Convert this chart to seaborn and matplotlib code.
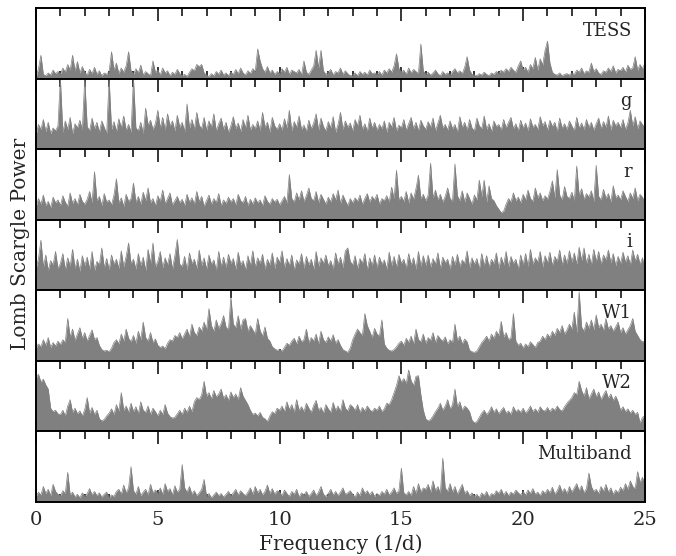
import numpy as np
import matplotlib
matplotlib.use("Agg")
import matplotlib.pyplot as plt
from matplotlib.ticker import MultipleLocator
import seaborn as sns

# power per panel, percent of panel height, sampled every 0.1 1/d from 0 to 25
tess_power = [
    2, 14, 33, 6, 4, 8, 5, 12, 7, 10,
    6, 15, 9, 20, 12, 33, 11, 24, 8, 17,
    9, 5, 13, 7, 16, 6, 11, 4, 8, 6,
    10, 38, 12, 22, 7, 15, 9, 18, 38, 11,
    6, 14, 8, 19, 5, 10, 7, 4, 25, 9,
    12, 5, 15, 8, 11, 4, 9, 6, 13, 7,
    4, 6, 3, 9, 14, 11, 20, 17, 20, 8,
    5, 3, 7, 4, 10, 6, 12, 5, 8, 4,
    9, 6, 13, 7, 15, 8, 5, 11, 7, 14,
    10, 42, 25, 14, 9, 17, 8, 12, 6, 10,
    7, 14, 9, 16, 6, 12, 10, 8, 13, 5,
    25, 9, 6, 12, 18, 40, 15, 40, 11, 6,
    9, 13, 5, 10, 8, 15, 6, 11, 7, 4,
    5, 8, 4, 10, 6, 9, 5, 12, 7, 8,
    6, 10, 5, 12, 8, 14, 9, 18, 35, 14,
    9, 12, 6, 15, 8, 13, 10, 7, 49, 11,
    6, 9, 5, 8, 12, 7, 4, 10, 6, 8,
    5, 10, 14, 8, 11, 7, 16, 31, 12, 6,
    5, 4, 7, 5, 9, 6, 4, 8, 6, 10,
    7, 12, 9, 14, 10, 16, 12, 9, 18, 25,
    12, 16, 9, 20, 14, 30, 12, 28, 19, 40,
    53, 22, 9, 6, 5, 8, 4, 6, 7, 5,
    8, 6, 12, 9, 15, 7, 11, 9, 22, 10,
    14, 8, 6, 11, 9, 15, 10, 18, 8, 13,
    11, 16, 9, 19, 13, 15, 31, 12, 20, 14,
    22,
]

g_power = [
    20, 35, 28, 42, 25, 38, 22, 30, 26, 33,
    100, 24, 40, 28, 45, 22, 36, 30, 41, 27,
    100, 32, 26, 44, 29, 38, 24, 40, 31, 22,
    100, 28, 39, 25, 43, 30, 47, 27, 35, 24,
    100, 30, 26, 38, 22, 58, 34, 41, 28, 36,
    55, 30, 45, 27, 50, 33, 40, 26, 48, 31,
    38, 25, 64, 30, 42, 28, 52, 34, 29, 45,
    27, 40, 31, 50, 26, 36, 44, 28, 38, 24,
    33, 46, 29, 37, 25, 42, 30, 48, 27, 35,
    29, 40, 26, 52, 31, 38, 24, 45, 33, 28,
    36, 27, 43, 30, 55, 26, 39, 31, 47, 28,
    34, 25, 41, 29, 37, 50, 27, 44, 32, 26,
    39, 30, 46, 24, 35, 52, 28, 40, 31, 37,
    26, 42, 33, 48, 28, 36, 25, 44, 30, 38,
    27, 35, 29, 40, 24, 38, 31, 45, 26, 34,
    30, 42, 27, 36, 45, 29, 38, 26, 41, 33,
    28, 39, 31, 44, 26, 37, 48, 30, 35, 27,
    40, 29, 35, 24, 46, 31, 38, 27, 42, 30,
    26, 44, 33, 29, 47, 28, 36, 25, 40, 32,
    35, 27, 42, 30, 38, 45, 29, 36, 26, 41,
    30, 37, 26, 43, 31, 35, 28, 46, 33, 39,
    27, 41, 32, 38, 25, 44, 30, 36, 28, 40,
    33, 26, 45, 30, 37, 28, 42, 31, 38, 27,
    36, 44, 29, 39, 31, 47, 27, 41, 33, 38,
    30, 42, 28, 37, 55, 33, 46, 29, 40, 35,
    30,
]

r_power = [
    18, 30, 22, 35, 20, 26, 17, 32, 24, 28,
    20, 34, 25, 19, 38, 23, 30, 21, 36, 26,
    22, 29, 40, 24, 68, 27, 33, 20, 37, 25,
    28, 21, 35, 58, 24, 31, 19, 36, 26, 30,
    52, 25, 33, 22, 39, 27, 45, 24, 30, 20,
    34, 26, 42, 23, 30, 38, 21, 27, 33, 24,
    29, 20, 36, 25, 31, 22, 40, 26, 33, 19,
    27, 35, 22, 30, 24, 37, 20, 28, 23, 32,
    25, 30, 21, 36, 27, 24, 33, 20, 29, 22,
    31, 24, 28, 20, 34, 26, 22, 30, 25, 29,
    21, 27, 33, 24, 64, 30, 25, 38, 28, 41,
    26, 34, 45, 30, 27, 40, 24, 36, 29, 22,
    32, 25, 37, 28, 42, 23, 35, 27, 20, 30,
    24, 31, 26, 35, 22, 30, 37, 25, 33, 28,
    36, 22, 30, 27, 34, 25, 46, 30, 70, 28,
    33, 26, 40, 24, 38, 29, 44, 63, 30, 36,
    27, 35, 80, 31, 42, 28, 36, 25, 33, 45,
    30, 26, 79, 34, 27, 41, 25, 38, 30, 22,
    35, 28, 56, 33, 56, 25, 48, 30, 27, 20,
    15, 10, 12, 22, 30, 25, 38, 27, 32, 24,
    36, 28, 42, 30, 26, 45, 31, 38, 27, 34,
    29, 40, 55, 31, 71, 35, 28, 47, 33, 30,
    39, 27, 76, 34, 44, 29, 37, 32, 41, 26,
    77, 33, 28, 43, 30, 37, 25, 48, 31, 35,
    28, 41, 33, 26, 38, 30, 45, 27, 36, 32,
    25,
]

i_power = [
    30, 45, 71, 33, 50, 28, 42, 36, 55, 31,
    38, 52, 29, 46, 34, 58, 31, 44, 27, 49,
    35, 47, 30, 55, 28, 41, 36, 60, 32, 45,
    29, 50, 37, 44, 31, 56, 33, 48, 67, 38,
    44, 30, 52, 35, 47, 28, 58, 38, 67, 33,
    41, 55, 32, 46, 36, 52, 30, 49, 72, 37,
    34, 48, 29, 53, 38, 44, 31, 57, 35, 46,
    30, 50, 37, 43, 28, 55, 34, 47, 32, 51,
    38, 45, 30, 54, 36, 42, 29, 49, 35, 56,
    33, 46, 38, 51, 30, 44, 36, 53, 31, 47,
    39, 56, 32, 45, 35, 50, 29, 43, 37, 52,
    31, 48, 36, 44, 30, 55, 34, 46, 38, 50,
    35, 42, 30, 53, 37, 47, 32, 56, 60, 41,
    36, 49, 31, 45, 38, 52, 29, 46, 35, 50,
    32, 47, 37, 43, 30, 54, 35, 48, 33, 51,
    38, 44, 31, 52, 36, 46, 30, 55, 34, 49,
    35, 50, 33, 45, 37, 53, 31, 47, 39, 44,
    30, 48, 36, 51, 34, 43, 38, 56, 32, 46,
    37, 45, 30, 52, 35, 49, 33, 44, 38, 53,
    31, 47, 36, 55, 33, 48, 38, 44, 30, 50,
    36, 52, 34, 58, 37, 46, 40, 55, 33, 49,
    39, 54, 35, 48, 41, 57, 36, 50, 38, 56,
    40, 53, 37, 61, 42, 60, 38, 51, 36, 58,
    41, 55, 37, 50, 43, 57, 39, 52, 35, 48,
    38, 54, 40, 49, 36, 57, 42, 51, 37, 46,
    30,
]

w1_power = [
    18, 24, 20, 30, 22, 33, 19, 26, 21, 28,
    23, 30, 26, 60, 34, 45, 29, 38, 47, 32,
    40, 28, 36, 44, 30, 33, 22, 16, 14, 15,
    13, 18, 26, 30, 24, 38, 28, 45, 32, 27,
    36, 25, 42, 30, 55, 33, 28, 40, 26, 31,
    22, 19, 21, 17, 25, 30, 28, 36, 33, 40,
    31, 38, 45, 34, 52, 40, 36, 48, 42, 55,
    44, 74, 50, 42, 58, 46, 53, 64, 48, 44,
    90, 52, 47, 64, 45, 58, 60, 42, 50, 44,
    38, 60, 43, 35, 48, 32, 28, 20, 17, 15,
    16, 14, 19, 25, 22, 28, 32, 24, 35, 27,
    30, 45, 26, 33, 28, 38, 24, 42, 30, 26,
    34, 28, 37, 25, 30, 22, 16, 14, 12, 18,
    30, 38, 45, 40, 36, 67, 50, 42, 33, 46,
    38, 35, 58, 24, 18, 15, 14, 16, 20, 25,
    28, 22, 32, 26, 35, 24, 45, 30, 27, 38,
    25, 33, 29, 40, 26, 36, 31, 28, 34, 24,
    30, 26, 52, 29, 35, 24, 31, 27, 15, 13,
    12, 14, 20, 26, 30, 35, 28, 38, 32, 42,
    36, 56, 34, 40, 30, 33, 67, 28, 22, 25,
    18, 24, 20, 27, 23, 19, 26, 28, 35, 30,
    38, 33, 42, 36, 46, 40, 50, 38, 44, 52,
    45, 69, 40, 98, 48, 42, 55, 46, 58, 44,
    65, 47, 52, 43, 60, 45, 50, 42, 48, 55,
    40, 47, 38, 44, 50, 60, 42, 36, 30, 27,
    28,
]

w2_power = [
    75, 81, 70, 74, 66, 60, 33, 28, 30, 25,
    24, 30, 22, 36, 45, 27, 33, 25, 29, 22,
    31, 48, 26, 34, 24, 30, 18, 15, 17, 22,
    26, 32, 24, 38, 29, 55, 30, 36, 27, 40,
    28, 35, 25, 42, 30, 27, 36, 24, 33, 28,
    22, 30, 24, 38, 26, 21, 19, 20, 25, 30,
    24, 33, 27, 36, 28, 42, 48, 45, 52, 71,
    50, 55, 46, 58, 49, 53, 60, 47, 52, 44,
    56, 48, 53, 45, 62, 50, 44, 38, 30, 24,
    26, 22, 27, 20, 18, 14, 22, 28, 25, 33,
    30, 36, 28, 42, 31, 38, 27, 45, 30, 35,
    28, 40, 33, 27, 37, 44, 30, 34, 26, 38,
    32, 27, 41, 30, 36, 28, 45, 33, 29, 38,
    35, 30, 38, 27, 34, 29, 36, 31, 28, 33,
    30, 36, 28, 32, 40, 38, 45, 55, 65, 79,
    70, 75, 68, 87, 72, 65, 78, 79, 52, 30,
    18, 15, 17, 22, 28, 33, 40, 30, 36, 45,
    32, 38, 60, 35, 42, 30, 36, 33, 28, 16,
    12, 14, 20, 26, 30, 24, 28, 35, 27, 32,
    25, 30, 34, 26, 29, 24, 35, 28, 31, 27,
    33, 26, 30, 36, 28, 32, 27, 35, 30, 29,
    34, 28, 33, 30, 36, 31, 29, 35, 40, 44,
    48, 55, 52, 71, 58, 50, 62, 46, 53, 60,
    49, 56, 45, 52, 58, 47, 53, 44, 50, 42,
    30, 35, 28, 32, 26, 30, 24, 27, 12, 20,
    22,
]

multi_power = [
    8, 14, 10, 22, 12, 18, 9, 25, 15, 11,
    9, 16, 12, 42, 10, 14, 7, 11, 6, 13,
    8, 12, 19, 10, 15, 9, 13, 7, 11, 14,
    6, 10, 8, 15, 18, 11, 24, 13, 20, 50,
    16, 11, 22, 9, 14, 18, 10, 25, 13, 17,
    12, 20, 11, 26, 15, 19, 10, 23, 14, 18,
    53, 20, 14, 22, 11, 16, 9, 13, 18, 32,
    8, 12, 6, 10, 14, 9, 12, 7, 11, 15,
    9, 13, 18, 10, 16, 12, 9, 14, 20, 11,
    22, 13, 18, 10, 15, 24, 12, 19, 11, 16,
    14, 9, 17, 12, 8, 15, 11, 18, 7, 13,
    10, 15, 8, 12, 17, 9, 14, 22, 11, 8,
    12, 18, 10, 15, 9, 14, 20, 11, 13, 16,
    11, 7, 14, 9, 20, 12, 16, 10, 15, 8,
    12, 9, 15, 11, 18, 10, 14, 20, 12, 16,
    48, 13, 10, 15, 9, 22, 12, 26, 14, 20,
    18, 25, 14, 30, 16, 22, 12, 62, 20, 15,
    26, 14, 22, 11, 18, 25, 12, 16, 9, 13,
    8, 11, 6, 13, 9, 15, 7, 12, 10, 16,
    12, 18, 10, 15, 9, 14, 11, 17, 13, 10,
    15, 10, 17, 12, 19, 11, 14, 9, 16, 12,
    18, 13, 21, 11, 16, 24, 14, 19, 12, 22,
    14, 20, 26, 16, 23, 13, 19, 41, 22, 15,
    18, 12, 22, 15, 25, 14, 20, 11, 17, 13,
    21, 16, 26, 18, 30, 22, 19, 43, 28, 35,
    25,
]

band_labels = ["TESS", "g", "r", "i", "W1", "W2", "Multiband"]
panels = [tess_power, g_power, r_power, i_power, w1_power, w2_power, multi_power]
freq = np.linspace(0, 25, len(tess_power))

sns.set_style("ticks")
plt.rcParams["font.family"] = ["DejaVu Serif"]
plt.rcParams["font.size"] = 12

fig, axes = plt.subplots(7, 1, sharex=True, figsize=(6.76, 5.56), dpi=100)
fig.subplots_adjust(left=0.0533, right=0.954, top=0.9856, bottom=0.0971, hspace=0)

grey = "#808080"
for ax, power, label in zip(axes, panels, band_labels):
    sns.lineplot(x=freq, y=power, ax=ax, color=grey, lw=0.5)
    ax.fill_between(freq, 0, power, color=grey, lw=0)
    ax.set_xlim(0, 25)
    ax.set_ylim(0, 100)
    ax.set_yticks([])
    ax.set_ylabel("")
    ax.xaxis.set_major_locator(MultipleLocator(5))
    ax.xaxis.set_minor_locator(MultipleLocator(1))
    ax.tick_params(axis="x", which="both", direction="in", top=True, bottom=True,
                   width=1.3, labelsize=14, pad=6.5)
    ax.tick_params(axis="x", which="major", length=9)
    ax.tick_params(axis="x", which="minor", length=5.5)
    for sp in ax.spines.values():
        sp.set_linewidth(1.4)
        sp.set_color("black")
    ax.text(0.979, 0.68, label, transform=ax.transAxes, ha="right", va="center", fontsize=13)

axes[-1].set_xlabel("Frequency (1/d)", fontsize=14.5, labelpad=4)
fig.text(0.03, 0.561, "Lomb Scargle Power", rotation=90, ha="center", va="center", fontsize=14.5)

fig.savefig("out.png", dpi=100)
